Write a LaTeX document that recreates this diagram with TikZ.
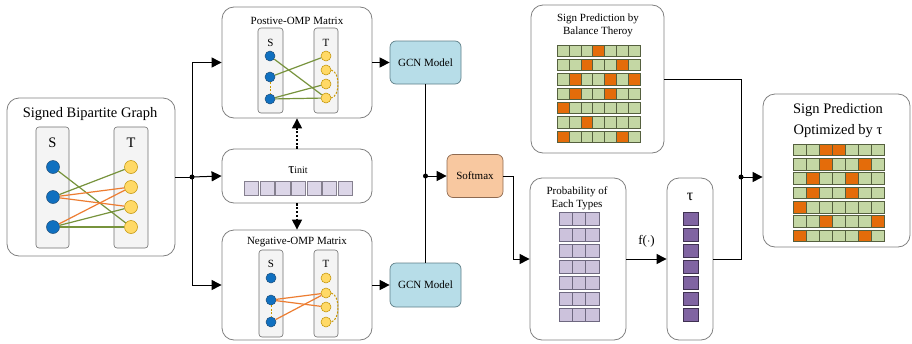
\documentclass[tikz,border=0pt]{standalone}
\usepackage{fontspec}
\setmainfont{Liberation Serif}
\usetikzlibrary{arrows.meta,calc}
\definecolor{boxgray}{HTML}{808080}
\definecolor{innerfill}{HTML}{F4F4F4}
\definecolor{innerdraw}{HTML}{707070}
\definecolor{sblue}{HTML}{1070C0}
\definecolor{sbluedraw}{HTML}{1F4E79}
\definecolor{tyellow}{HTML}{FFD966}
\definecolor{tyellowdraw}{HTML}{BF9000}
\definecolor{egreen}{HTML}{77933C}
\definecolor{eorange}{HTML}{ED7D31}
\definecolor{edash}{HTML}{C99700}
\definecolor{gcnfill}{HTML}{B7DDE8}
\definecolor{gcndraw}{HTML}{5F7F88}
\definecolor{smfill}{HTML}{F8C8A0}
\definecolor{smdraw}{HTML}{8F6A50}
\definecolor{cgreen}{HTML}{C4D7A4}
\definecolor{corange}{HTML}{E46C0A}
\definecolor{cdraw}{HTML}{55603F}
\definecolor{pfill}{HTML}{CCC2DC}
\definecolor{pdraw}{HTML}{6E6880}
\definecolor{tfill}{HTML}{8064A2}
\definecolor{tdraw}{HTML}{3F3151}
\definecolor{tifill}{HTML}{DCD6E8}
\definecolor{tidraw}{HTML}{85808F}
\begin{document}
\begin{tikzpicture}[x=1pt,y=-1pt,
  bigbox/.style={draw=boxgray,line width=0.8pt,rounded corners=12pt,fill=white,inner sep=0pt},
  innerbox/.style={draw=innerdraw,line width=0.6pt,rounded corners=3pt,fill=innerfill,inner sep=0pt},
  snode/.style={circle,draw=sbluedraw,fill=sblue,line width=0.5pt,inner sep=0pt,minimum size=#1},
  tnode/.style={circle,draw=tyellowdraw,fill=tyellow,line width=0.5pt,inner sep=0pt,minimum size=#1},
  pe/.style={draw=egreen,line width=1.2pt},
  ne/.style={draw=eorange,line width=1.2pt},
  de/.style={draw=edash,line width=1pt,dash pattern=on 2pt off 1.5pt},
  conn/.style={draw=black,line width=1pt},
  arr/.style={conn,-{Triangle[length=10pt,width=10pt]}},
  darr/.style={draw=black,line width=1.1pt,dash pattern=on 2.2pt off 1.6pt,-{Triangle[length=10pt,width=10pt]}},
  dot/.style={circle,fill=black,inner sep=0pt,minimum size=5pt},
  modelbox/.style={draw=#1,rounded corners=6pt,line width=0.7pt,inner sep=0pt,font=\fontsize{11}{13}\selectfont},
  txt/.style={inner sep=0pt,font=\fontsize{11}{13}\selectfont},
  bigtxt/.style={inner sep=0pt,font=\fontsize{14.5}{17}\selectfont},
  cellg/.style={fill=cgreen,draw=cdraw,line width=0.6pt},
  cello/.style={fill=corange,draw=cdraw,line width=0.6pt}
]
\useasboundingbox (0,0) rectangle (912,343);

% ---------------- Signed bipartite graph ----------------
\node[bigbox,minimum width=168pt,minimum height=158pt] (sbg) at (91,177) {};
\node[bigtxt] (sbgt) at (90,114) {Signed Bipartite Graph};
\node[innerbox,minimum width=33pt,minimum height=121pt] (gS) at (52.5,187.5) {};
\node[innerbox,minimum width=34pt,minimum height=121pt] (gT) at (131,187.5) {};
\node[bigtxt] (gSl) at (52.5,143) {S};
\node[bigtxt] (gTl) at (131,143) {T};
\node[snode=13pt] (s1) at (53,167) {};
\node[snode=13pt] (s2) at (53,197) {};
\node[snode=13pt] (s3) at (53,227) {};
\node[tnode=13pt] (t1) at (131,167) {};
\node[tnode=13pt] (t2) at (131,187) {};
\node[tnode=13pt] (t3) at (131,207) {};
\node[tnode=13pt] (t4) at (131,227) {};
\draw[pe] (s1) -- (t4);
\draw[pe] (s2) -- (t1);
\draw[ne] (s2) -- (t2);
\draw[ne] (s2) -- (t3);
\draw[ne] (s3) -- (t2);
\draw[pe] (s3) -- (t3);
\draw[pe] (s3) -- (t4);

% ---------------- Positive OMP ----------------
\node[bigbox,minimum width=150pt,minimum height=111pt] (pos) at (297,62.5) {};
\node[txt] (post) at (297,21) {Postive-OMP Matrix};
\node[innerbox,minimum width=25pt,minimum height=85pt] (pS) at (270.5,70.5) {};
\node[innerbox,minimum width=24pt,minimum height=85pt] (pT) at (326,70.5) {};
\node[txt] (pSl) at (270.5,43) {S};
\node[txt] (pTl) at (326,43) {T};
\node[snode=10pt] (ps1) at (270,56) {};
\node[snode=10pt] (ps2) at (270,77) {};
\node[snode=10pt] (ps3) at (270,99) {};
\node[tnode=10pt] (pt1) at (326,56) {};
\node[tnode=10pt] (pt2) at (326,70) {};
\node[tnode=10pt] (pt3) at (326,84) {};
\node[tnode=10pt] (pt4) at (326,98) {};
\draw[pe] (ps1) -- (pt4);
\draw[pe] (ps2) -- (pt1);
\draw[pe] (ps3) -- (pt3);
\draw[pe] (ps3) -- (pt4);
\draw[de] (ps2) -- (ps3);
\draw[de] (pt2.east) .. controls +(9,2) and +(9,-2) .. (pt4.east);

% ---------------- tau init ----------------
\node[bigbox,minimum width=150pt,minimum height=54pt] (taui) at (297,176) {};
\node[inner sep=0pt] (tauil) at (298,170) {\fontsize{15}{17}\selectfont τ\fontsize{10}{12}\selectfont init};
\foreach \i in {0,...,6}{
  \fill[tifill,draw=tidraw,line width=0.6pt] (244.5+15.6*\i,181) rectangle ++(14.2,14);
}

% ---------------- Negative OMP ----------------
\node[bigbox,minimum width=150pt,minimum height=110pt] (neg) at (297,285) {};
\node[txt] (negt) at (297,242) {Negative-OMP Matrix};
\node[innerbox,minimum width=24pt,minimum height=87pt] (nS) at (271,293.5) {};
\node[innerbox,minimum width=24pt,minimum height=87pt] (nT) at (326,293.5) {};
\node[txt] (nSl) at (271,264) {S};
\node[txt] (nTl) at (326,264) {T};
\node[snode=10pt] (ns1) at (271,278) {};
\node[snode=10pt] (ns2) at (271,300) {};
\node[snode=10pt] (ns3) at (271,322) {};
\node[tnode=10pt] (nt1) at (326,278) {};
\node[tnode=10pt] (nt2) at (326,293) {};
\node[tnode=10pt] (nt3) at (326,307) {};
\node[tnode=10pt] (nt4) at (326,322) {};
\draw[ne] (ns2) -- (nt2);
\draw[ne] (ns2) -- (nt3);
\draw[ne] (ns3) -- (nt2);
\draw[de] (ns2) -- (ns3);
\draw[de] (nt2.east) .. controls +(9,2) and +(9,-2) .. (nt4.east);

% ---------------- split connectors ----------------
\coordinate (split) at (192,177);
\draw[conn] (sbg.east) -- (split);
\draw[arr] (split) |- (pos.west);
\draw[arr] (split) -- (taui.west);
\draw[arr] (split) |- (neg.west);
\node[dot] (splitdot) at (split) {};
\draw[darr] (taui.north) -- (pos.south);
\draw[darr] (taui.south) -- (neg.north);

% ---------------- GCN + softmax ----------------
\node[modelbox=gcndraw,fill=gcnfill,minimum width=71pt,minimum height=43pt] (gcn1) at (425.5,62.5) {GCN Model};
\node[modelbox=gcndraw,fill=gcnfill,minimum width=71pt,minimum height=44pt] (gcn2) at (425.5,285) {GCN Model};
\node[modelbox=smdraw,fill=smfill,minimum width=56pt,minimum height=43pt] (sm) at (475,176) {Softmax};
\draw[arr] (pos.east) -- (gcn1.west);
\draw[arr] (neg.east) -- (gcn2.west);
\draw[conn] (gcn1.south) -- (gcn2.north);
\coordinate (j1) at (gcn1.south |- sm.west);
\draw[arr] (j1) -- (sm.west);
\node[dot] (j1dot) at (j1) {};

% ---------------- probability ----------------
\node[bigbox,minimum width=96pt,minimum height=162pt] (prob) at (578,259) {};
\node[txt,align=center] (probt) at (577,198.5) {Probability of\\Each Types};
\foreach \r in {0,...,6}{
  \foreach \c in {0,1,2}{
    \fill[pfill,draw=pdraw,line width=0.6pt] (559+13.33*\c,212+16*\r) rectangle ++(13.33,13.7);
  }
}
\draw[arr] (sm.east) -- ++(10,0) |- (prob.west);

% ---------------- tau ----------------
\node[bigbox,minimum width=46pt,minimum height=162pt] (tau) at (690,259) {};
\node[inner sep=0pt,font=\fontsize{16}{18}\selectfont] (taul) at (690,197) {τ};
\foreach \r in {0,...,6}{
  \fill[tfill,draw=tdraw,line width=0.6pt] (683,212+16*\r) rectangle ++(15,13.7);
}
\draw[arr] (prob.east) -- node[inner sep=0pt,font=\fontsize{13}{15}\selectfont,above=11pt] (fl) {f($\cdot$)} (tau.west);

% ---------------- balance theory ----------------
\node[bigbox,minimum width=133pt,minimum height=148pt] (bal) at (597.5,79) {};
\node[txt,align=center] (balt) at (598,25.5) {Sign Prediction by\\Balance Theroy};
\foreach \r in {0,...,6}{
  \foreach \c in {0,...,6}{
    \draw[cellg] (557+11.9*\c,45+14.3*\r) rectangle ++(11.9,11.3);
  }
}
\foreach \r/\c in {0/3,1/2,1/5,2/1,2/4,2/6,3/1,3/4,4/0,5/2,6/0,6/5}{
  \draw[cello] (557+11.9*\c,45+14.3*\r) rectangle ++(11.9,11.3);
}

% ---------------- optimized ----------------
\node[bigbox,minimum width=147pt,minimum height=153pt] (opt) at (836.5,170.5) {};
\node[bigtxt] (optt1) at (838,110) {Sign Prediction};
\node[bigtxt] (optt2) at (838,131) {Optimized by τ};
\foreach \r in {0,...,6}{
  \foreach \c in {0,...,6}{
    \draw[cellg] (793+13.1*\c,144+14.3*\r) rectangle ++(13.1,11.6);
  }
}
\foreach \r/\c in {0/2,0/3,1/2,1/5,2/1,2/4,3/1,3/4,4/0,5/2,5/6,6/0,6/5}{
  \draw[cello] (793+13.1*\c,144+14.3*\r) rectangle ++(13.1,11.6);
}

\coordinate (j2) at (741,177);
\draw[conn] (bal.east) -| (j2);
\draw[conn] (tau.east) -| (j2);
\draw[arr] (j2) -- (j2 -| opt.west);
\node[dot] (j2dot) at (j2) {};
\end{tikzpicture}
\end{document}
